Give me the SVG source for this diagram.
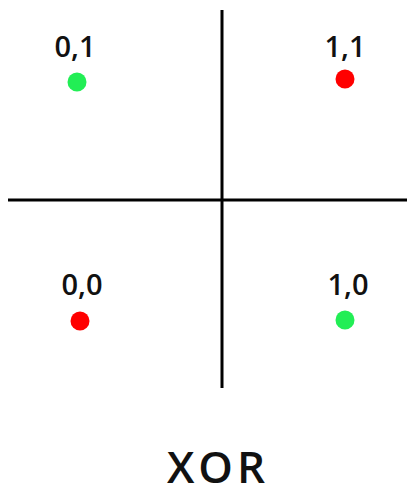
<svg xmlns="http://www.w3.org/2000/svg" width="411" height="496" viewBox="0 0 411 496">
<style>
.lbl{font-family:"Open Sans","DejaVu Sans",sans-serif;font-size:29px;font-weight:600;fill:#111;text-anchor:middle}
.title{font-family:"Open Sans","DejaVu Sans",sans-serif;font-size:44px;font-weight:600;fill:#111;text-anchor:middle;letter-spacing:4px}
.axis{stroke:#000;stroke-width:3}
.g{fill:#22ee55}
.r{fill:#ff0000}
</style>
<rect width="411" height="496" fill="#fff"/>
<g id="axes">
<line class="axis" x1="222" y1="10" x2="222" y2="388"/>
<line class="axis" x1="8" y1="200" x2="407" y2="200"/>
</g>
<g id="p01"><text class="lbl" x="75" y="57">0,1</text><circle class="g" cx="77" cy="82" r="9.5"/></g>
<g id="p11"><text class="lbl" x="345" y="57">1,1</text><circle class="r" cx="345" cy="79" r="9.5"/></g>
<g id="p00"><text class="lbl" x="82" y="295">0,0</text><circle class="r" cx="80" cy="321" r="9.5"/></g>
<g id="p10"><text class="lbl" x="348" y="295">1,0</text><circle class="g" cx="345" cy="320" r="9.5"/></g>
<g id="title"><text class="title" x="218" y="483">XOR</text></g>
</svg>
